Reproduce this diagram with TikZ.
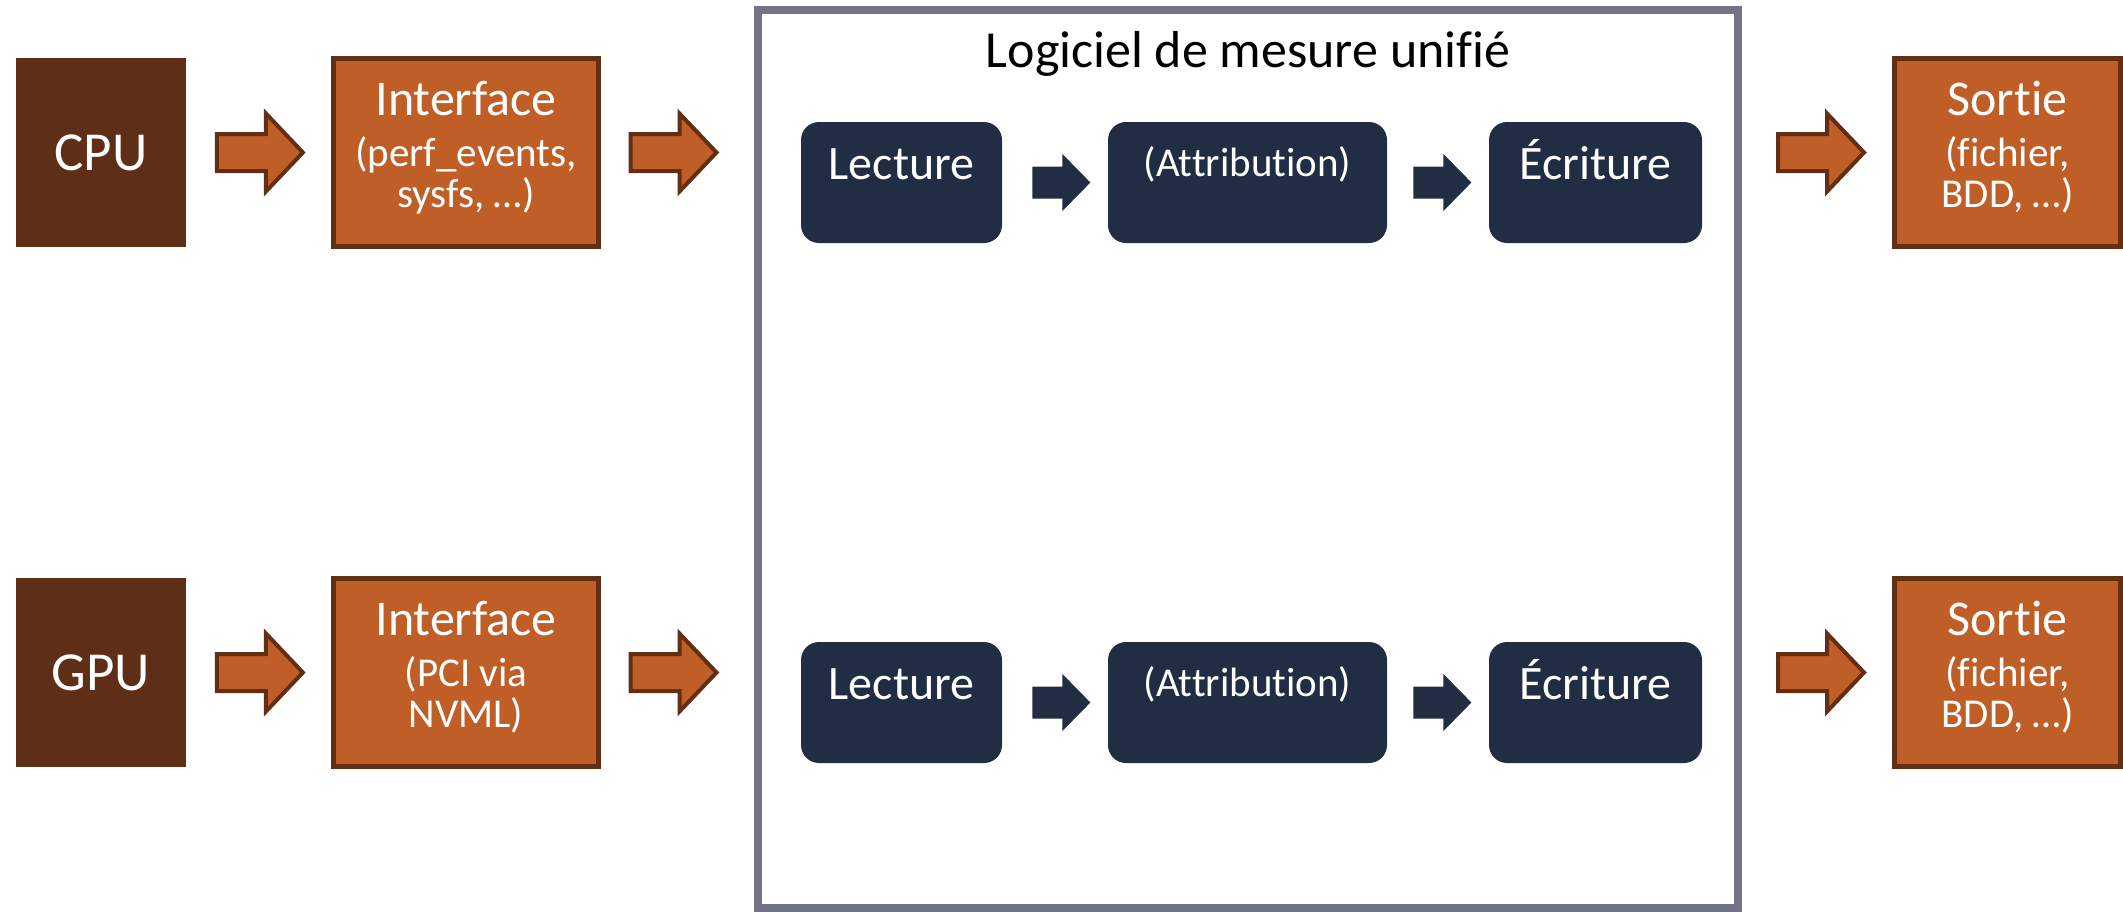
\documentclass[tikz,border=0pt]{standalone}
\usepackage{fontspec}
\setmainfont{Carlito}[Ligatures=NoCommon]
\usetikzlibrary{calc}
\definecolor{cpubrown}{HTML}{5E2E16}
\definecolor{orng}{HTML}{C05E27}
\definecolor{orngedge}{HTML}{632F14}
\definecolor{navy}{HTML}{212D42}
\definecolor{framegrey}{HTML}{737386}
\tikzset{
  hwbox/.style={fill=cpubrown, draw=none, minimum width=85pt, minimum height=94.5pt, inner sep=0pt,
    text=white, font=\fontsize{27.5}{32}\selectfont},
  ifbox/.style={fill=orng, draw=orngedge, line width=2.5pt, minimum height=94pt, inner sep=0pt},
  stepbox/.style={fill=navy, rounded corners=9pt, minimum height=60.5pt, inner sep=0pt},
  bigtxt/.style={text=white, font=\fontsize{25}{30}\selectfont, anchor=base, inner sep=0pt},
  smalltxt/.style={text=white, font=\fontsize{20.5}{25}\selectfont, anchor=base, inner sep=0pt},
  steptxt/.style={text=white, font=\fontsize{24}{28}\selectfont, anchor=base, inner sep=0pt},
  attrtxt/.style={text=white, font=\fontsize{20.5}{25}\selectfont, anchor=base, inner sep=0pt},
  titletxt/.style={text=black, font=\fontsize{26}{32}\selectfont, anchor=base, inner sep=0pt},
  bigarrow/.pic={\draw[fill=orng, draw=orngedge, line width=2pt, line join=miter]
     (-43.5,-18.5) -- (5.5,-18.5) -- (5.5,-39) -- (42.5,0) -- (5.5,39) -- (5.5,18.5) -- (-43.5,18.5) -- cycle;},
  smallarrow/.pic={\fill[navy]
     (-29,-16) -- (1,-16) -- (1,-28.5) -- (29,0) -- (1,28.5) -- (1,16) -- (-29,16) -- cycle;}
}
\begin{document}
\begin{tikzpicture}[x=0.5pt, y=-0.5pt]
\useasboundingbox (0,0) rectangle (2123,911);
% frame
\node[draw=framegrey, line width=4pt, minimum width=490pt, minimum height=449pt, inner sep=0pt] (fr) at (1248,458.5) {};
\node[titletxt] (title) at (1248,67) {Logiciel de mesure unifié};
% ---------- top row ----------
\node[hwbox] (cpu) at (101,152.5) {CPU};
\node[ifbox, minimum width=132.5pt] (ifa) at (466,152.5) {};
\node[bigtxt] (ifat1) at ($(ifa.north)+(0,59)$) {Interface};
\node[smalltxt] (ifat2) at ($(ifa.north)+(0,110)$) {(perf\_events,};
\node[smalltxt] (ifat3) at ($(ifa.north)+(0,151)$) {sysfs, …)};
\node[stepbox, minimum width=100.5pt] (la) at (901.5,182.5) {};
\node[steptxt] (lat) at ($(la.north)+(0,58)$) {Lecture};
\node[stepbox, minimum width=139.5pt] (aa) at (1247.5,182.5) {};
\node[attrtxt] (aat) at ($(aa.north)+(0,55)$) {(Attribution)};
\node[stepbox, minimum width=106.5pt] (ea) at (1595.5,182.5) {};
\node[steptxt] (eat) at ($(ea.north)+(0,58)$) {Écriture};
\node[ifbox, minimum width=113pt] (soa) at (2007.5,152.5) {};
\node[bigtxt] (soat1) at ($(soa.north)+(0,59)$) {Sortie};
\node[smalltxt] (soat2) at ($(soa.north)+(0,110)$) {(fichier,};
\node[smalltxt] (soat3) at ($(soa.north)+(0,151)$) {BDD, …)};
\path ($(cpu.east)+(74,0)$) pic {bigarrow};
\path ($(ifa.east)+(73,0)$) pic {bigarrow};
\path ($(soa.west)+(-70.5,0)$) pic {bigarrow};
\path ($(la.east)+(59,0)$) pic {smallarrow};
\path ($(aa.east)+(55,0)$) pic {smallarrow};
% ---------- bottom row ----------
\node[hwbox] (gpu) at (101,672.5) {GPU};
\node[ifbox, minimum width=132.5pt] (ifb) at (466,672.5) {};
\node[bigtxt] (ifbt1) at ($(ifb.north)+(0,59)$) {Interface};
\node[smalltxt] (ifbt2) at ($(ifb.north)+(0,110)$) {(PCI via};
\node[smalltxt] (ifbt3) at ($(ifb.north)+(0,151)$) {NVML)};
\node[stepbox, minimum width=100.5pt] (lb) at (901.5,702.5) {};
\node[steptxt] (lbt) at ($(lb.north)+(0,58)$) {Lecture};
\node[stepbox, minimum width=139.5pt] (ab) at (1247.5,702.5) {};
\node[attrtxt] (abt) at ($(ab.north)+(0,55)$) {(Attribution)};
\node[stepbox, minimum width=106.5pt] (eb) at (1595.5,702.5) {};
\node[steptxt] (ebt) at ($(eb.north)+(0,58)$) {Écriture};
\node[ifbox, minimum width=113pt] (sob) at (2007.5,672.5) {};
\node[bigtxt] (sobt1) at ($(sob.north)+(0,59)$) {Sortie};
\node[smalltxt] (sobt2) at ($(sob.north)+(0,110)$) {(fichier,};
\node[smalltxt] (sobt3) at ($(sob.north)+(0,151)$) {BDD, …)};
\path ($(gpu.east)+(74,0)$) pic {bigarrow};
\path ($(ifb.east)+(73,0)$) pic {bigarrow};
\path ($(sob.west)+(-70.5,0)$) pic {bigarrow};
\path ($(lb.east)+(59,0)$) pic {smallarrow};
\path ($(ab.east)+(55,0)$) pic {smallarrow};
\end{tikzpicture}
\end{document}
